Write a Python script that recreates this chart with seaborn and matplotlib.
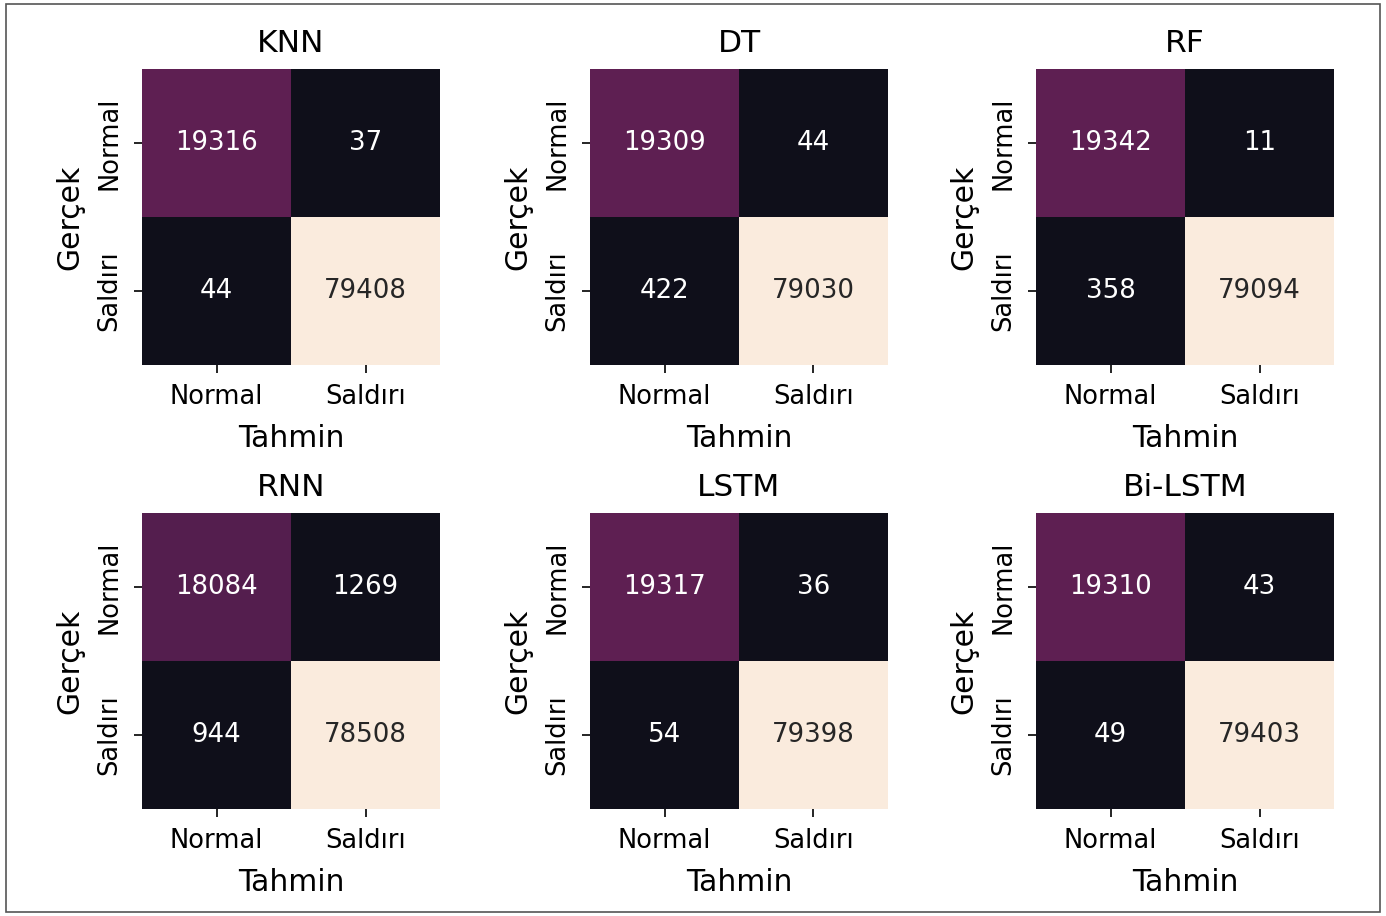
import numpy as np
import matplotlib
matplotlib.use("Agg")
import matplotlib.pyplot as plt
import seaborn as sns
from matplotlib.patches import Rectangle
from matplotlib.colors import ListedColormap

models = ["KNN", "DT", "RF", "RNN", "LSTM", "Bi-LSTM"]
knn = [[19316, 37], [44, 79408]]
dt = [[19309, 44], [422, 79030]]
rf = [[19342, 11], [358, 79094]]
rnn = [[18084, 1269], [944, 78508]]
lstm = [[19317, 36], [54, 79398]]
bilstm = [[19310, 43], [49, 79403]]
matrices = [knn, dt, rf, rnn, lstm, bilstm]
class_labels = ["Normal", "Saldırı"]
xlabel_text = "Tahmin"
ylabel_text = "Gerçek"

W, H = 1386, 916
fig = plt.figure(figsize=(W / 100, H / 100), dpi=100)
fig.patch.set_facecolor("white")

base = sns.color_palette("rocket", as_cmap=True)
cols = base(np.linspace(0, 1, 256))
cols[:, :3] = np.maximum(cols[:, :3], 15 / 255)
cmap = ListedColormap(cols)

lefts = [142, 590, 1036]
tops = [69, 513]
size_w, size_h = 298, 296

for i, (name, mat) in enumerate(zip(models, matrices)):
    r, c = divmod(i, 3)
    x0 = lefts[c] / W
    y0 = 1 - (tops[r] + size_h) / H
    ax = fig.add_axes([x0, y0, size_w / W, size_h / H])
    sns.heatmap(np.array(mat), annot=True, fmt="d", cbar=False, cmap=cmap,
                xticklabels=class_labels, yticklabels=class_labels, ax=ax,
                annot_kws={"fontsize": 18.7})
    ax.set_title(name, fontsize=22.5, pad=12.5)
    ax.set_xlabel(xlabel_text, fontsize=21.5, labelpad=9.5)
    ax.set_ylabel(ylabel_text, fontsize=21.5, labelpad=9)
    ax.tick_params(axis="both", length=6, width=1.2, labelsize=18.5, pad=8)
    plt.setp(ax.get_yticklabels(), rotation=90, va="center")
    plt.setp(ax.get_xticklabels(), rotation=0)

fig.add_artist(Rectangle((6 / W, 4 / H), (1380 - 6) / W, (912 - 4) / H,
                         transform=fig.transFigure, fill=False,
                         edgecolor="#555555", linewidth=1.2))

fig.savefig("out.png", dpi=100)
